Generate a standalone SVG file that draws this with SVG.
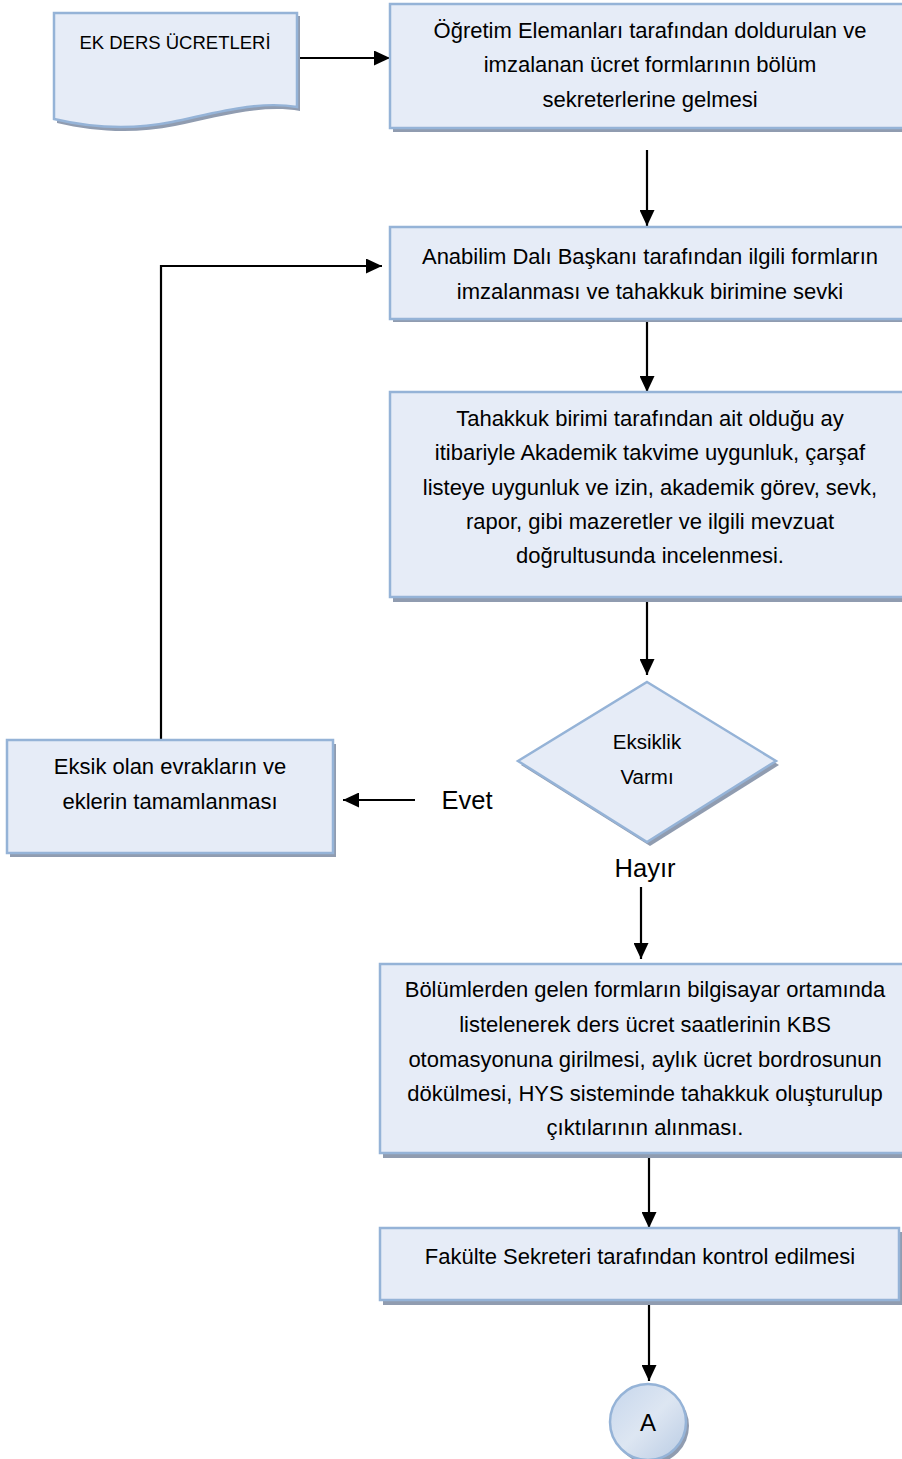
<svg xmlns="http://www.w3.org/2000/svg" width="902" height="1459" viewBox="0 0 902 1459">
<style>
.box{fill:#E6ECF7;stroke:#95B3D7;stroke-width:2.5}
.sh{fill:#909CB0}
.t{font-family:"Liberation Sans",Arial,sans-serif;font-size:22px;fill:#000;text-anchor:middle}
.c{fill:none;stroke:#000;stroke-width:2.2}
</style>
<defs>
<marker id="ah" markerUnits="userSpaceOnUse" markerWidth="17" markerHeight="15" refX="16" refY="7.5" orient="auto">
<path d="M0,0 L16,7.5 L0,15 Z" fill="#000"/>
</marker>
<linearGradient id="cg" x1="0" y1="0" x2="1" y2="1">
<stop offset="0" stop-color="#C6D6EC"/>
<stop offset="0.5" stop-color="#DDE6F2"/>
<stop offset="1" stop-color="#B9CBE3"/>
</linearGradient>
</defs>

<g id="connectors">
<line class="c" x1="297" y1="58" x2="390" y2="58" marker-end="url(#ah)"/>
<line class="c" x1="647" y1="150" x2="647" y2="226" marker-end="url(#ah)"/>
<polyline class="c" points="161,740 161,266 382,266" marker-end="url(#ah)"/>
<line class="c" x1="647" y1="320" x2="647" y2="392" marker-end="url(#ah)"/>
<line class="c" x1="647" y1="600" x2="647" y2="675" marker-end="url(#ah)"/>
<line class="c" x1="415" y1="800" x2="343" y2="800" marker-end="url(#ah)"/>
<line class="c" x1="641" y1="887" x2="641" y2="959" marker-end="url(#ah)"/>
<line class="c" x1="649" y1="1157" x2="649" y2="1228" marker-end="url(#ah)"/>
<line class="c" x1="649" y1="1304" x2="649" y2="1381" marker-end="url(#ah)"/>
</g>

<g id="doc">
<path class="sh" d="M57,16 H300 V111 C260,104 215,118 175,126 C135,134 95,132 57,123 Z"/>
<path class="box" d="M54,13 H297 V107 C257,100 212,114 172,122 C132,130 92,128 54,119 Z"/>
<text class="t" x="175" y="49" style="font-size:18.5px">EK DERS ÜCRETLERİ</text>
</g>

<g id="box1">
<rect class="sh" x="393" y="8" width="520" height="124"/>
<rect class="box" x="390" y="4" width="520" height="124"/>
<text class="t" x="650" y="38">Öğretim Elemanları tarafından doldurulan ve</text>
<text class="t" x="650" y="72">imzalanan ücret formlarının bölüm</text>
<text class="t" x="650" y="107">sekreterlerine gelmesi</text>
</g>

<g id="box2">
<rect class="sh" x="393" y="230" width="520" height="92"/>
<rect class="box" x="390" y="227" width="520" height="92"/>
<text class="t" x="650" y="264">Anabilim Dalı Başkanı tarafından ilgili formların</text>
<text class="t" x="650" y="299">imzalanması ve tahakkuk birimine sevki</text>
</g>

<g id="box3">
<rect class="sh" x="393" y="396" width="520" height="206"/>
<rect class="box" x="390" y="392" width="520" height="205"/>
<text class="t" x="650" y="426">Tahakkuk birimi tarafından ait olduğu ay</text>
<text class="t" x="650" y="460">itibariyle Akademik takvime uygunluk, çarşaf</text>
<text class="t" x="650" y="495">listeye uygunluk ve izin, akademik görev, sevk,</text>
<text class="t" x="650" y="529">rapor, gibi mazeretler ve ilgili mevzuat</text>
<text class="t" x="650" y="563">doğrultusunda incelenmesi.</text>
</g>

<g id="decision">
<polygon class="sh" points="650,686 779,765 650,846 521,765"/>
<polygon class="box" points="647,682 776,761 647,842 518,761"/>
<text class="t" x="647" y="749" style="font-size:20.5px">Eksiklik</text>
<text class="t" x="647" y="784" style="font-size:20.5px">Varmı</text>
</g>

<g id="eksik">
<rect class="sh" x="10" y="744" width="326" height="113"/>
<rect class="box" x="7" y="740" width="326" height="113"/>
<text class="t" x="170" y="774">Eksik olan evrakların ve</text>
<text class="t" x="170" y="809">eklerin tamamlanması</text>
</g>

<g id="labels">
<text class="t" x="467" y="809" style="font-size:25.5px">Evet</text>
<text class="t" x="645" y="877" style="font-size:25.5px">Hayır</text>
</g>

<g id="box4">
<rect class="sh" x="383" y="968" width="530" height="190"/>
<rect class="box" x="380" y="964" width="530" height="189"/>
<text class="t" x="645" y="997">Bölümlerden gelen formların bilgisayar ortamında</text>
<text class="t" x="645" y="1032">listelenerek ders ücret saatlerinin KBS</text>
<text class="t" x="645" y="1067">otomasyonuna girilmesi, aylık ücret bordrosunun</text>
<text class="t" x="645" y="1101">dökülmesi, HYS sisteminde tahakkuk oluşturulup</text>
<text class="t" x="645" y="1135">çıktılarının alınması.</text>
</g>

<g id="box5">
<rect class="sh" x="383" y="1232" width="520" height="73"/>
<rect class="box" x="380" y="1228" width="519" height="72"/>
<text class="t" x="640" y="1264">Fakülte Sekreteri tarafından kontrol edilmesi</text>
</g>

<g id="connectorA">
<circle cx="651" cy="1426" r="38" fill="#909CB0"/>
<circle cx="648" cy="1422" r="38" fill="url(#cg)" stroke="#95B3D7" stroke-width="2.5"/>
<text class="t" x="648" y="1431" style="font-size:24px">A</text>
</g>
</svg>
